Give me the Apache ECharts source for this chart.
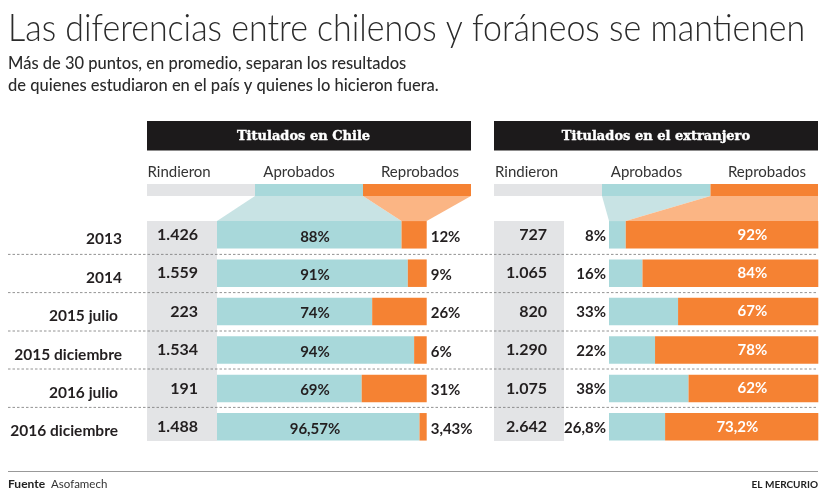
<!DOCTYPE html>
<html>
<head>
<meta charset="utf-8">
<style>html,body{margin:0;padding:0;background:#fff}#c{width:833px;height:497px}</style>
<script src="https://cdn.jsdelivr.net/npm/echarts@6/dist/echarts.min.js"></script>
</head>
<body>
<div id="c"></div>
<script>
const periods = ['2013','2014','2015 julio','2015 diciembre','2016 julio','2016 diciembre'];
const chileTaken = ['1.426','1.559','223','1.534','191','1.488'];
const chilePassed = [88,91,74,94,69,96.57];
const chileFailed = [12,9,26,6,31,3.43];
const abroadTaken = ['727','1.065','820','1.290','1.075','2.642'];
const abroadPassed = [8,16,33,22,38,26.8];
const abroadFailed = [92,84,67,78,62,73.2];

const TEAL='#a8d8da', ORANGE='#f58233', GREY='#e3e4e6', INK='#231f20', F='Lato';
const pct = v => String(v).replace('.',',')+'%';
const chart = echarts.init(document.getElementById('c'),null,{renderer:'canvas'});

const txt=(x,y,text,o={})=>Object.assign({type:'text',x,y,z:o.z||5,style:Object.assign({text,font:'15px '+F,fill:'#333',textAlign:'left',textVerticalAlign:'middle'},o.style||{})},o.el||{});
const rect=(x,y,w,h,fill,z=1)=>({type:'rect',z,shape:{x,y,width:w,height:h},style:{fill}});
const poly=(pts,fill)=>({type:'polygon',z:1,shape:{points:pts},style:{fill}});
const dash=y=>({type:'line',z:4,shape:{x1:8,y1:y,x2:818,y2:y},style:{stroke:'#777',lineWidth:0.8,lineDash:[2.5,2]}});

const yBase=(gridIndex,data,margin,extra)=>Object.assign({type:'category',gridIndex,position:'left',z:6,inverse:true,data,
  axisLine:{show:false},axisTick:{show:false},splitLine:{show:false}},extra,{
  axisLabel:Object.assign({interval:0,margin,align:'right',color:INK,fontFamily:F,fontWeight:700,fontSize:15},extra.axisLabel)});

const option={
  animation:false,
  backgroundColor:'#fff',
  grid:[
    {left:217,top:215.6,width:209.7,height:230.4},
    {left:609,top:215.6,width:209.3,height:230.4}
  ],
  xAxis:[0,1].map(g=>({type:'value',gridIndex:g,min:0,max:100,show:false})),
  yAxis:[
    yBase(0,periods,95,{axisLabel:{padding:[9,0,0,0],fontSize:15.5,formatter:(v)=>['2015 julio','2016 julio','2016 diciembre'].includes(v)?`{s|${v}}`:v,
      rich:{s:{padding:[0,4,0,0],fontFamily:F,fontWeight:700,fontSize:15.5,color:INK}}}}),
    yBase(0,chileTaken,19,{axisLabel:{padding:[8,0,0,0],fontSize:16}}),
    yBase(1,abroadTaken,62,{axisLabel:{padding:[2,0,0,0],fontSize:16}}),
  ],
  series:[
    {type:'bar',name:'Aprobados',xAxisIndex:0,yAxisIndex:0,stack:'chile',barWidth:27.5,itemStyle:{color:TEAL},data:chilePassed,
      label:{show:true,position:[98,'50%'],align:'center',verticalAlign:'middle',offset:[0,2],formatter:p=>pct(p.value),color:INK,fontFamily:F,fontWeight:700,fontSize:15}},
    {type:'bar',name:'Reprobados',xAxisIndex:0,yAxisIndex:0,stack:'chile',barWidth:27.5,itemStyle:{color:ORANGE},data:chileFailed,
      label:{show:true,position:'right',distance:4,offset:[0,2],formatter:p=>pct(p.value),color:INK,fontFamily:F,fontWeight:700,fontSize:15}},
    {type:'bar',name:'Aprobados',xAxisIndex:1,yAxisIndex:2,stack:'abroad',barWidth:27.5,itemStyle:{color:TEAL},data:abroadPassed,
      label:{show:true,position:'left',distance:3,offset:[0,1],formatter:p=>pct(p.value),color:INK,fontFamily:F,fontWeight:700,fontSize:15}},
    {type:'bar',name:'Reprobados',xAxisIndex:1,yAxisIndex:2,stack:'abroad',barWidth:27.5,itemStyle:{color:ORANGE},
      data:abroadFailed.map((v,i)=>({value:v,label:{distance:i===5?60:51}})),
      label:{show:true,position:'insideRight',offset:[0,0],formatter:p=>pct(p.value),color:'#fff',fontFamily:F,fontWeight:700,fontSize:15}},
  ],
  graphic:[
    rect(147,221,70,220,GREY),rect(494,221,70,220,GREY),
    rect(147,184,108,12,GREY),rect(255,184,108,12,TEAL),rect(363,184,108,12,ORANGE),
    rect(494,184,108,12,GREY),rect(602,184,108.5,12,TEAL),rect(710.5,184,107.5,12,ORANGE),
    poly([[255,196],[363,196],[401.5,221],[217,221]],'#c8e3e4'),
    poly([[363,196],[471,196],[426.7,221],[401.5,221]],'#fbb584'),
    poly([[602,196],[710.5,196],[625.7,221],[609,221]],'#c8e3e4'),
    poly([[710.5,196],[818,196],[818,221],[625.7,221]],'#fbb584'),
    rect(147,121,324,29.5,'#1c1a1b',3),rect(494,121,324,29.5,'#1c1a1b',3),
    txt(8,29,'Las diferencias entre chilenos y foráneos se mantienen',{style:{font:'300 37px '+F,fill:'#2b2b2b'},el:{scaleX:0.918}}),
    txt(8,64,'Más de 30 puntos, en promedio, separan los resultados',{style:{font:'500 16.5px '+F,fill:'#2b2b2b'}}),
    txt(8,86,'de quienes estudiaron en el país y quienes lo hicieron fuera.',{style:{font:'500 16.5px '+F,fill:'#2b2b2b'}}),
    txt(303.5,137,'Titulados en Chile',{style:{font:'bold 13px "DejaVu Serif"',fill:'#fff',stroke:'#fff',lineWidth:0.4,textAlign:'center'}}),
    txt(656,137,'Titulados en el extranjero',{style:{font:'bold 13px "DejaVu Serif"',fill:'#fff',stroke:'#fff',lineWidth:0.4,textAlign:'center'}}),
    txt(147.5,172,'Rindieron'),txt(299,172,'Aprobados',{style:{textAlign:'center'}}),txt(420,172,'Reprobados',{style:{textAlign:'center'}}),
    txt(495,172,'Rindieron'),txt(646.5,172,'Aprobados',{style:{textAlign:'center'}}),txt(767,172,'Reprobados',{style:{textAlign:'center'}}),
    dash(254.4),dash(292.6),dash(331),dash(369),dash(407.4),
    {type:'line',z:4,shape:{x1:8,y1:471.5,x2:818,y2:471.5},style:{stroke:'#999',lineWidth:1}},
    txt(8,484,'Fuente',{style:{font:'bold 12px '+F,fill:'#222'}}),
    txt(51,484,'Asofamech',{style:{font:'11.5px '+F,fill:'#333'}}),
    txt(818,485,'EL MERCURIO',{style:{font:'bold 10px '+F,fill:'#222',textAlign:'right'}}),
  ]
};
chart.setOption(option);
</script>
</body>
</html>
